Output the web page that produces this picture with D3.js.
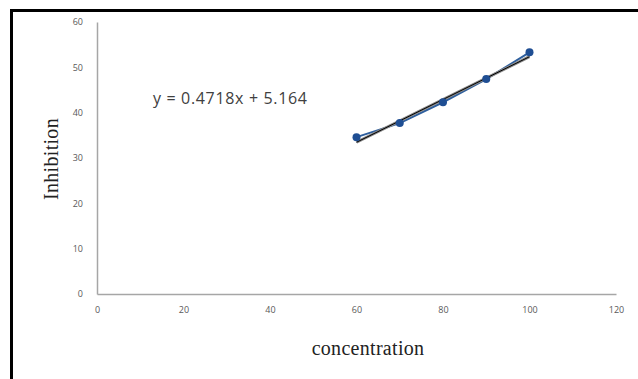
<!DOCTYPE html>
<html>
<head>
<meta charset="utf-8">
<script src="https://cdn.jsdelivr.net/npm/d3@7"></script>
<style>
  body { margin: 0; background: #fff; }
  svg { display: block; }
</style>
</head>
<body>
<div id="chart"></div>
<script>
// data
var concentration = [60, 70, 80, 90, 100];
var inhibition = [34.6, 37.7, 42.3, 47.4, 53.3];
var slope = 0.4718, intercept = 5.164;
var xTicks = [0, 20, 40, 60, 80, 100, 120];
var yTicks = [0, 10, 20, 30, 40, 50, 60];

var width = 638, height = 379;
var svg = d3.select('#chart').append('svg')
    .attr('width', width)
    .attr('height', height);

// frame around the chart (cropped on right and bottom)
svg.append('path')
    .attr('d', 'M11.5,' + height + 'V10.5H' + width)
    .attr('fill', 'none')
    .attr('stroke', '#000')
    .attr('stroke-width', 3);

var x = d3.scaleLinear().domain([0, 120]).range([97, 616]);
var y = d3.scaleLinear().domain([0, 60]).range([294, 22]);

// axes
var xAxis = d3.axisBottom(x).tickValues(xTicks).tickSize(0).tickPadding(13);
var yAxis = d3.axisLeft(y).tickValues(yTicks).tickSize(0).tickPadding(14);

var gx = svg.append('g').attr('transform', 'translate(0,' + y(0) + ')').call(xAxis);
var gy = svg.append('g').attr('transform', 'translate(' + x(0) + ',0)').call(yAxis);

[gx, gy].forEach(function(g) {
    g.select('.domain').attr('stroke', '#a6a6a6').attr('stroke-width', 1.5);
    g.selectAll('text')
        .attr('fill', '#595959')
        .style('font-family', 'Open Sans, DejaVu Sans, sans-serif')
        .style('font-size', '9px');
});

// axis titles
svg.append('text')
    .attr('x', 368)
    .attr('y', 355)
    .attr('text-anchor', 'middle')
    .style('font-family', 'Liberation Serif, DejaVu Serif, serif')
    .style('font-size', '20px')
    .style('letter-spacing', '0.3px')
    .attr('fill', '#222')
    .text('concentration');

svg.append('text')
    .attr('transform', 'translate(58,159)rotate(-90)')
    .attr('text-anchor', 'middle')
    .style('font-family', 'Liberation Serif, DejaVu Serif, serif')
    .style('font-size', '20px')
    .style('letter-spacing', '0.3px')
    .attr('fill', '#222')
    .text('Inhibition');

// equation label
svg.append('text')
    .attr('x', 153)
    .attr('y', 104)
    .style('font-family', 'Open Sans, DejaVu Sans, sans-serif')
    .style('font-size', '16px')
    .attr('textLength', 154)
    .attr('fill', '#404040')
    .text('y = 0.4718x + 5.164');

var pts = concentration.map(function(c, i) { return { c: c, v: inhibition[i] }; });

// data series
var line = d3.line()
    .x(function(d) { return x(d.c); })
    .y(function(d) { return y(d.v); });

svg.append('path')
    .datum(pts)
    .attr('d', line)
    .attr('fill', 'none')
    .attr('stroke', '#2e5f9e')
    .attr('stroke-width', 2);

// linear trendline
var xExt = d3.extent(concentration);
var trend = xExt.map(function(c) { return { c: c, v: slope * c + intercept }; });
svg.append('path')
    .datum(trend)
    .attr('d', line)
    .attr('fill', 'none')
    .attr('stroke', '#888')
    .attr('stroke-width', 3);
svg.append('path')
    .datum(trend)
    .attr('d', line)
    .attr('fill', 'none')
    .attr('stroke', '#000')
    .attr('stroke-width', 1);

svg.append('g')
    .selectAll('circle')
    .data(pts)
    .enter()
    .append('circle')
    .attr('cx', function(d) { return x(d.c); })
    .attr('cy', function(d) { return y(d.v); })
    .attr('r', 4)
    .attr('fill', '#1f4e93');
</script>
</body>
</html>
